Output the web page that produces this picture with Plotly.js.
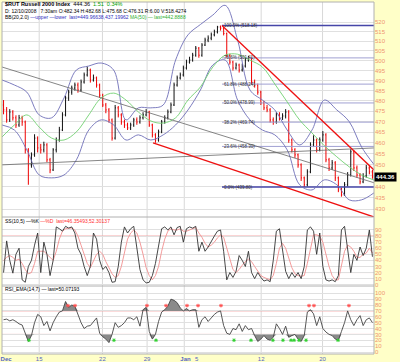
<!DOCTYPE html>
<html><head><meta charset="utf-8">
<script src="https://cdn.plot.ly/plotly-3.0.1.min.js"></script>
<style>html,body{margin:0;padding:0;background:#ffffc8}</style>
</head><body><div id="chart" style="width:400px;height:362px"></div>
<script>
// ---------- DATA ----------
const barsPerDay = 4;
const openP = [478.0,475.6,470.8,474.6,471.8,468.4,471.8,469.8,456.7,449.8,454.4,462.2,457.6,456.7,459.0,452.1,447.5,456.7,461.3,466.0,
473.2,481.4,484.3,486.3,487.8,485.3,489.3,492.8,495.3,490.3,491.3,487.8,482.8,478.0,475.6,470.8,462.2,476.6,473.2,469.8,
468.4,467.0,468.4,470.8,469.8,471.8,473.2,474.6,468.4,463.7,461.3,465.1,469.8,471.8,474.6,478.0,487.8,491.3,492.8,496.3,
499.3,500.3,502.8,506.4,502.8,508.0,510.6,511.6,513.3,514.8,517.4,516.8,514.0,502.8,499.3,496.3,497.8,495.3,497.3,500.3,
501.3,489.3,487.8,484.3,479.0,476.6,475.6,470.8,469.8,473.2,471.8,472.7,474.6,461.3,456.7,454.4,449.8,443.9,440.8,446.6,
459.0,461.3,456.7,461.3,463.7,452.1,448.4,450.7,443.9,438.5,436.3,440.8,445.2,455.8,448.4,445.2,442.1,444.8,448.4,446.6];
const highP = [480.4,477.0,476.0,475.5,473.0,473.2,472.8,470.5,457.5,455.5,464.0,463.0,459.5,460.5,459.8,453.0,457.5,462.5,467.5,474.5,
482.5,485.5,487.5,489.0,489.0,490.5,494.0,497.0,496.0,493.0,492.0,488.5,483.5,479.0,476.5,471.5,478.0,477.5,474.0,471.0,
469.5,469.5,471.8,472.0,473.0,474.5,476.0,475.2,469.0,464.5,466.2,470.8,473.0,475.8,479.2,489.0,492.5,494.0,497.5,500.5,
502.0,504.0,507.5,507.0,509.0,511.8,513.0,514.5,516.0,518.0,518.18,517.5,514.5,503.5,500.0,499.0,498.5,498.5,501.5,502.5,
502.0,490.5,488.5,485.0,480.0,478.0,476.5,472.0,474.5,474.5,474.0,476.0,475.5,462.0,457.5,455.0,450.5,444.5,447.8,460.2,
463.5,462.0,462.5,465.5,464.5,453.0,452.0,451.5,444.5,439.5,442.0,446.5,457.0,456.5,449.5,446.0,446.0,449.8,449.5,447.5];
const lowP = [473.5,469.5,469.8,470.5,467.0,467.5,468.0,455.0,440.8,448.5,453.5,455.5,455.0,455.5,451.0,446.0,447.0,455.5,460.5,465.5,
472.5,480.0,483.0,485.0,484.0,484.5,488.5,492.0,489.0,489.5,486.5,481.5,477.0,474.0,469.5,461.0,461.5,472.0,468.5,467.0,
466.0,466.0,467.5,468.5,469.0,471.0,472.5,467.5,462.5,460.0,460.5,464.5,469.0,471.0,474.0,477.5,487.0,490.5,492.0,495.5,
498.5,499.5,502.0,501.5,502.0,507.5,509.5,510.5,512.5,514.0,515.5,513.0,501.5,498.0,495.0,495.5,494.0,494.5,496.5,499.5,
488.0,486.5,483.0,478.0,475.5,474.5,469.5,468.5,469.0,470.5,470.8,471.5,460.0,455.5,453.0,448.5,442.5,439.8,440.0,446.0,
458.0,455.5,456.0,460.5,451.0,447.0,447.5,442.5,437.5,435.5,435.8,440.0,444.5,447.0,444.0,441.0,441.5,444.0,445.5,443.5];
const closeP = [475.6,470.8,474.6,471.8,468.4,471.8,469.8,456.7,449.8,454.4,462.2,457.6,456.7,459.0,452.1,447.5,456.7,461.3,466.0,473.2,
481.4,484.3,486.3,487.8,485.3,489.3,492.8,495.3,490.3,491.3,487.8,482.8,478.0,475.6,470.8,462.2,476.6,473.2,469.8,468.4,
467.0,468.4,470.8,469.8,471.8,473.2,474.6,468.4,463.7,461.3,465.1,469.8,471.8,474.6,478.0,487.8,491.3,492.8,496.3,499.3,
500.3,502.8,506.4,502.8,508.0,510.6,511.6,513.3,514.8,517.4,516.8,514.0,502.8,499.3,496.3,497.8,495.3,497.3,500.3,501.3,
489.3,487.8,484.3,479.0,476.6,475.6,470.8,469.8,473.2,471.8,472.7,474.6,461.3,456.7,454.4,449.8,443.9,440.8,446.6,459.0,
461.3,456.7,461.3,463.7,452.1,448.4,450.7,443.9,438.5,436.3,440.8,445.2,455.8,448.4,445.2,442.1,444.8,448.4,446.6,444.36];

// daily samples (day 0..30)
const bbUpper = [490.3,487.8,484.3,473.2,471.8,481.4,495.3,497.3,498.8,495.3,470.8,476.6,476.6,478.0,500.3,513.3,518.7,523.7,528.9,510.6,
485.3,480.4,475.6,466.0,459.0,466.0,480.4,475.6,470.0,458.0,449.97];
const bbLower = [468.4,466.0,456.7,445.2,443.9,445.2,452.1,466.0,470.8,468.4,461.3,463.7,461.3,463.7,468.4,475.6,485.3,497.8,500.3,480.4,
470.8,466.0,463.7,456.7,440.8,438.5,443.0,440.8,434.1,434.1,437.2];
const ma50 = [462.7,468.4,473.2,467.4,462.2,461.3,465.1,473.2,481.4,483.8,480.4,474.6,470.3,469.3,471.8,480.4,486.8,496.8,502.8,503.3,
500.3,496.8,488.3,479.5,470.8,464.6,458.6,453.5,448.9,445.2,442.89];

// trend lines [day, price]
const redUpperDays = [17.74, 30], redUpperVals = [518.18, 447.5];
const redLowerDays = [12.18, 30], redLowerVals = [459.9, 426.6];
const blackUpperDays = [0, 30], blackUpperVals = [496.8, 441.7];
const blackLowerDays = [0, 30], blackLowerVals = [449.8, 457.6];

// fibonacci retracement
const fibStartDay = 17.74;
const fibPct = ['100.0%','78.6%','61.8%','50.0%','38.2%','23.6%','0.0%'];
const fibVals = [518.18,501.41,488.24,478.99,469.74,458.30,439.80];

// stochastics
const stochK = [20,72,40,19,50,60,8,4,30,40,65,85,20,70,50,15,40,95,92,88,
96,93,95,85,60,50,30,15,30,85,75,40,25,30,20,4,5,30,70,95,
85,92,96,60,25,8,3,4,15,35,65,92,95,90,95,82,94,96,70,92,
95,93,96,55,70,55,62,72,80,88,90,55,8,20,12,22,48,40,30,55,
20,10,20,12,6,8,5,40,88,92,55,22,10,20,12,20,10,30,90,95,
88,50,85,30,8,6,8,5,15,90,96,60,20,50,40,62,48,60,90,46];
const stochD = [40,45,48,45,40,42,35,25,18,20,35,55,55,55,50,45,40,55,75,88,
92,93,93,90,80,65,50,35,28,38,50,55,50,38,28,18,12,15,30,55,
75,85,90,85,70,50,28,15,8,15,30,55,75,88,92,90,90,92,88,88,
90,92,94,85,78,68,62,65,70,77,82,78,60,40,25,20,25,32,38,42,
38,30,22,15,12,10,8,15,35,60,68,60,45,28,18,15,14,15,35,60,
82,82,80,70,50,30,15,8,8,30,55,65,62,55,45,45,50,52,60,52];
// RSI
const rsi = [55,56,53,55,52,48,46,30,18,28,50,64,60,45,52,36,50,60,68,70,
86,76,80,78,62,50,40,44,45,52,58,32,26,22,16,30,50,42,45,50,
58,58,55,60,44,72,76,35,22,30,52,68,72,78,90,88,84,75,70,74,
70,72,72,42,55,60,52,58,64,68,70,45,32,30,40,38,48,35,45,38,
40,28,18,22,28,22,20,25,48,40,30,44,25,28,30,22,18,28,68,72,
65,45,60,40,34,30,28,22,20,35,50,70,55,45,55,62,45,55,58,50];
const rsiRedDays = [5.32,5.89,11.69,13.23,14.92,15.81,17.66,24.76,25.16,27.98];
const rsiGreenDays = [2.18,9.03,12.42,18.71,20.08,21.85,22.66,23.31,23.55,23.95,24.52,27.10];

// axis labels
const xTickDays = [0.33,3.0,8.1,11.7,14.8,15.7,20.9,25.85];
const xTickText = ['<b>Dec</b>','15','22','29','<b>Jan</b>','5','12','20'];
const gridDays = [3.0,8.1,11.7,14.7,20.9,25.85];
const priceTicks = [430,435,440,445,450,455,460,465,470,475,480,485,490,495,500,505,510,515,520];
const stochTicks = [0,10,20,30,40,50,60,70,80,90];
const rsiTicks = [0,10,20,30,40,50,60,70,80,90,100];
const lastPrice = 444.36;

// ---------- BUILD ----------
const barX = closeP.map((_, i) => (i + 0.5) / barsPerDay);
const dayX = bbUpper.map((_, i) => i);
const traces = [];

traces.push({type:'ohlc', x:barX, open:openP, high:highP, low:lowP, close:closeP,
  increasing:{line:{color:'#111111', width:1}}, decreasing:{line:{color:'#ee0000', width:1}},
  tickwidth:0.25, xaxis:'x', yaxis:'y', hoverinfo:'skip'});

fibVals.forEach((v, k) => {
  const strong = (k === 0 || k === fibVals.length - 1);
  traces.push({type:'scatter', mode:'lines', x:[fibStartDay, 30], y:[v, v], xaxis:'x', yaxis:'y',
    line:{color: strong ? '#4646a8' : '#a0a0d2', width: strong ? 1.6 : 1}, hoverinfo:'skip'});
});

traces.push({type:'scatter', mode:'lines', x:dayX, y:bbUpper, line:{color:'#6e6eb8', width:0.9, shape:'spline'}, xaxis:'x', yaxis:'y', hoverinfo:'skip'});
traces.push({type:'scatter', mode:'lines', x:dayX, y:bbLower, line:{color:'#6e6eb8', width:0.9, shape:'spline'}, xaxis:'x', yaxis:'y', hoverinfo:'skip'});
traces.push({type:'scatter', mode:'lines', x:dayX, y:ma50, line:{color:'#70d070', width:0.9, shape:'spline'}, xaxis:'x', yaxis:'y', hoverinfo:'skip'});

traces.push({type:'scatter', mode:'lines', x:blackUpperDays, y:blackUpperVals, line:{color:'#666666', width:0.8}, xaxis:'x', yaxis:'y', hoverinfo:'skip'});
traces.push({type:'scatter', mode:'lines', x:blackLowerDays, y:blackLowerVals, line:{color:'#666666', width:0.8}, xaxis:'x', yaxis:'y', hoverinfo:'skip'});
traces.push({type:'scatter', mode:'lines', x:redUpperDays, y:redUpperVals, line:{color:'#ee1111', width:1.3}, xaxis:'x', yaxis:'y', hoverinfo:'skip'});
traces.push({type:'scatter', mode:'lines', x:redLowerDays, y:redLowerVals, line:{color:'#ee1111', width:1.3}, xaxis:'x', yaxis:'y', hoverinfo:'skip'});

traces.push({type:'scatter', mode:'lines', x:barX, y:stochD, line:{color:'#f29090', width:0.9}, xaxis:'x', yaxis:'y2', hoverinfo:'skip'});
traces.push({type:'scatter', mode:'lines', x:barX, y:stochK, line:{color:'#333333', width:0.9}, xaxis:'x', yaxis:'y2', hoverinfo:'skip'});

traces.push({type:'scatter', mode:'lines', x:barX, y:barX.map(() => 70), line:{width:0, color:'rgba(0,0,0,0)'}, xaxis:'x', yaxis:'y3', hoverinfo:'skip'});
traces.push({type:'scatter', mode:'lines', x:barX, y:rsi.map(v => Math.max(v, 70)), fill:'tonexty', fillcolor:'#8a8a8a', line:{width:0, color:'rgba(0,0,0,0)'}, xaxis:'x', yaxis:'y3', hoverinfo:'skip'});
traces.push({type:'scatter', mode:'lines', x:barX, y:barX.map(() => 30), line:{width:0, color:'rgba(0,0,0,0)'}, xaxis:'x', yaxis:'y3', hoverinfo:'skip'});
traces.push({type:'scatter', mode:'lines', x:barX, y:rsi.map(v => Math.min(v, 30)), fill:'tonexty', fillcolor:'#8a8a8a', line:{width:0, color:'rgba(0,0,0,0)'}, xaxis:'x', yaxis:'y3', hoverinfo:'skip'});
traces.push({type:'scatter', mode:'lines', x:barX, y:rsi, line:{color:'#444444', width:0.9}, xaxis:'x', yaxis:'y3', hoverinfo:'skip'});
traces.push({type:'scatter', mode:'markers', x:rsiRedDays, y:rsiRedDays.map(() => 79), marker:{color:'#ff5050', size:3, symbol:'asterisk-open', line:{width:1, color:'#ff5050'}}, xaxis:'x', yaxis:'y3', hoverinfo:'skip'});
traces.push({type:'scatter', mode:'markers', x:rsiGreenDays, y:rsiGreenDays.map(() => 20), marker:{color:'#30d030', size:3, symbol:'asterisk-open', line:{width:1, color:'#30d030'}}, xaxis:'x', yaxis:'y3', hoverinfo:'skip'});

const tickFont = {family:'Liberation Sans, Arial, sans-serif', size:6, color:'#ef9470'};
const gridC = '#e0e0e0';
const shapes = [];
gridDays.forEach(d => shapes.push({type:'line', xref:'x', yref:'paper', x0:d, x1:d, y0:0, y1:1, line:{color:'#d8d8d8', width:1}, layer:'below'}));
[80, 20].forEach(v => shapes.push({type:'line', xref:'paper', yref:'y2', x0:0, x1:1, y0:v, y1:v, line:{color:'#f4a4a4', width:1}, layer:'below'}));
[70, 30].forEach(v => shapes.push({type:'line', xref:'paper', yref:'y3', x0:0, x1:1, y0:v, y1:v, line:{color:'#f4a4a4', width:1}, layer:'below'}));
[0.3892, 0.19318].forEach(p => shapes.push({type:'line', xref:'paper', yref:'paper', x0:0, x1:1, y0:p, y1:p, line:{color:'#b0b0b0', width:1}}));
shapes.push({type:'rect', xref:'paper', yref:'paper', x0:0, x1:1, y0:0, y1:1, line:{color:'#b0b0b0', width:1}});

const fontA = 'Liberation Sans, Arial, sans-serif';
const annotations = [
  {xref:'paper', yref:'paper', x:0.003, y:0.993, xanchor:'left', yanchor:'middle', showarrow:false,
   text:'<b>$RUT Russell 2000 Index</b>  444.36  <span style="color:#00a000">1.51  0.34%</span>', font:{family:fontA, size:5.5, color:'#000'}},
  {xref:'paper', yref:'paper', x:0.003, y:0.9745, xanchor:'left', yanchor:'middle', showarrow:false,
   text:'D: 12/10/2008   7:30am O:482.34 H:482.68 L:475.68 C:476.31 R:6.00 V:518.4274', font:{family:fontA, size:5, color:'#000'}},
  {xref:'paper', yref:'paper', x:0.003, y:0.956, xanchor:'left', yanchor:'middle', showarrow:false,
   text:'BB(20,2.0) <span style="color:#3030c0">\u2014upper \u2014lower  last=449.96638,437.19962</span> <span style="color:#30b030">MA(50) \u2014 last=442.8888</span>', font:{family:fontA, size:5, color:'#000'}},
  {xref:'paper', yref:'paper', x:0.003, y:0.3778, xanchor:'left', yanchor:'middle', showarrow:false,
   text:'SS(10,5) \u2014%K <span style="color:#ff3030">\u2014%D  last=46.35493,52.30137</span>', font:{family:fontA, size:5, color:'#000'}},
  {xref:'paper', yref:'paper', x:0.003, y:0.1847, xanchor:'left', yanchor:'middle', showarrow:false,
   text:'RSI_EMA(14,7) \u2014 last=50.07193', font:{family:fontA, size:5, color:'#000'}},
  {xref:'paper', yref:'y', x:1.0, y:Math.log10(lastPrice), xanchor:'left', yanchor:'middle', showarrow:false,
   text:'<b>' + lastPrice.toFixed(2) + '</b>', bgcolor:'#000', borderpad:1, font:{family:fontA, size:6, color:'#fff'}}
];
fibVals.forEach((v, k) => annotations.push({xref:'x', yref:'y', x:fibStartDay, y:Math.log10(v), xanchor:'left', yanchor:'middle', showarrow:false,
  text: fibPct[k] + ' (' + v.toFixed(2) + ')', font:{family:fontA, size:4.5, color:'#333'}}));

// the 445 tick label sits under the last-price box in the reference
const priceTickText = priceTicks.map(v => (Math.abs(v - lastPrice) < 2.5 ? '' : String(v)));

const layout = {
  width:400, height:362, margin:{l:2, r:26, t:2, b:8},
  paper_bgcolor:'#ffffc8', plot_bgcolor:'#ffffff', showlegend:false,
  xaxis:{range:[0,30], anchor:'y3', tickvals:xTickDays, ticktext:xTickText, showgrid:false, zeroline:false,
    ticks:'', ticklen:0, tickfont:{family:fontA, size:6, color:'#5566c0'}, rangeslider:{visible:false}, fixedrange:true},
  yaxis:{domain:[0.3892,1], type:'log', range:[Math.log10(426.6), Math.log10(530.7)], side:'right', anchor:'x',
    tickvals:priceTicks, ticktext:priceTickText, tickfont:tickFont, gridcolor:gridC, zeroline:false, ticks:''},
  yaxis2:{domain:[0.19318,0.3892], range:[-2.1,111.3], side:'right', anchor:'x',
    tickvals:stochTicks, tickfont:tickFont, gridcolor:gridC, zeroline:false, ticks:''},
  yaxis3:{domain:[0,0.19318], range:[-3.4,112.4], side:'right', anchor:'x',
    tickvals:rsiTicks, tickfont:tickFont, gridcolor:gridC, zeroline:false, ticks:''},
  shapes:shapes, annotations:annotations
};
Plotly.newPlot('chart', traces, layout, {staticPlot:true, displayModeBar:false});
</script></body></html>
